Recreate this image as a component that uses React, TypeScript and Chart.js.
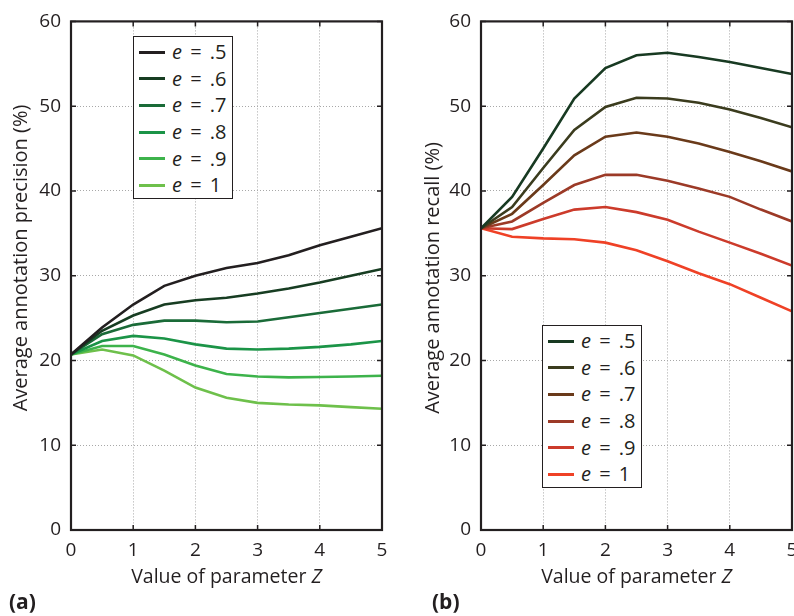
import React, { useEffect, useRef } from "react";
import { Chart, registerables } from "chart.js";

Chart.register(...registerables);

// ---- data ----
const zValues = [0, 0.5, 1, 1.5, 2, 2.5, 3, 3.5, 4, 4.5, 5];
const eLabels = [".5", ".6", ".7", ".8", ".9", "1"];
const xTickValues = [0, 1, 2, 3, 4, 5];
const yTickValues = [0, 10, 20, 30, 40, 50, 60];

const precisionE05 = [20.7, 23.9, 26.6, 28.8, 30.0, 30.9, 31.5, 32.4, 33.6, 34.6, 35.6];
const precisionE06 = [20.7, 23.5, 25.3, 26.6, 27.1, 27.4, 27.9, 28.5, 29.2, 30.0, 30.8];
const precisionE07 = [20.7, 23.1, 24.2, 24.7, 24.7, 24.5, 24.6, 25.1, 25.6, 26.1, 26.6];
const precisionE08 = [20.7, 22.3, 22.9, 22.6, 21.9, 21.4, 21.3, 21.4, 21.6, 21.9, 22.3];
const precisionE09 = [20.7, 21.7, 21.7, 20.7, 19.4, 18.4, 18.1, 18.0, 18.05, 18.1, 18.2];
const precisionE10 = [20.7, 21.3, 20.6, 18.8, 16.8, 15.6, 15.0, 14.8, 14.7, 14.5, 14.3];

const recallE05 = [35.6, 39.3, 45.0, 50.9, 54.5, 56.0, 56.3, 55.8, 55.2, 54.5, 53.8];
const recallE06 = [35.6, 38.1, 42.7, 47.2, 49.9, 51.0, 50.9, 50.4, 49.6, 48.6, 47.5];
const recallE07 = [35.6, 37.3, 40.7, 44.2, 46.4, 46.9, 46.4, 45.6, 44.6, 43.5, 42.3];
const recallE08 = [35.6, 36.4, 38.6, 40.7, 41.9, 41.9, 41.2, 40.3, 39.3, 37.8, 36.4];
const recallE09 = [35.6, 35.5, 36.7, 37.8, 38.1, 37.5, 36.6, 35.2, 33.9, 32.6, 31.2];
const recallE10 = [35.6, 34.6, 34.4, 34.3, 33.9, 33.0, 31.7, 30.3, 29.0, 27.4, 25.8];

const precisionSeries = [precisionE05, precisionE06, precisionE07, precisionE08, precisionE09, precisionE10];
const recallSeries = [recallE05, recallE06, recallE07, recallE08, recallE09, recallE10];

const precisionColors = ["#231f20", "#173d22", "#1a6b38", "#1b9447", "#3db34b", "#6ec04b"];
const recallColors = ["#183a22", "#3b3c1e", "#6a3a1a", "#9c3a27", "#cc3b2b", "#ef4126"];

const TEXT = "#231f20";
const FONT = "'Open Sans', 'Liberation Sans', sans-serif";

const framePlugin = {
  id: "frame",
  afterDraw(chart: any) {
    const { ctx, chartArea, scales } = chart;
    const { left, right, top, bottom } = chartArea;
    ctx.save();
    ctx.strokeStyle = TEXT;
    ctx.lineWidth = 1.5;
    const tl = 5;
    ctx.beginPath();
    scales.x.ticks.forEach((t: any) => {
      const px = scales.x.getPixelForValue(t.value);
      ctx.moveTo(px, bottom);
      ctx.lineTo(px, bottom - tl);
      ctx.moveTo(px, top);
      ctx.lineTo(px, top + tl);
    });
    scales.y.ticks.forEach((t: any) => {
      const py = scales.y.getPixelForValue(t.value);
      ctx.moveTo(left, py);
      ctx.lineTo(left + tl, py);
      ctx.moveTo(right, py);
      ctx.lineTo(right - tl, py);
    });
    ctx.stroke();
    ctx.lineWidth = 2.2;
    ctx.strokeRect(left, top, right - left, bottom - top);
    ctx.restore();
  },
};

type PanelProps = {
  series: number[][];
  colors: string[];
  yAxisWidth: number;
  rightPad: number;
};

function Panel({ series, colors, yAxisWidth, rightPad }: PanelProps) {
  const ref = useRef<HTMLCanvasElement | null>(null);
  useEffect(() => {
    if (!ref.current) return;
    const chart = new Chart(ref.current, {
      type: "line",
      data: {
        datasets: series.map((s, i) => ({
          label: "e = " + eLabels[i],
          data: zValues.map((z, j) => ({ x: z, y: s[j] })),
          borderColor: colors[i],
          backgroundColor: colors[i],
          borderWidth: 2.6,
          pointRadius: 0,
          tension: 0,
          fill: false,
        })),
      },
      options: {
        animation: false,
        responsive: false,
        maintainAspectRatio: false,
        layout: { padding: { top: 16, right: rightPad, left: 0, bottom: 0 } },
        plugins: { legend: { display: false }, tooltip: { enabled: false } },
        scales: {
          x: {
            type: "linear",
            min: 0,
            max: 5,
            afterBuildTicks: (s: any) => {
              s.ticks = xTickValues.map((v) => ({ value: v }));
            },
            afterFit: (s: any) => {
              s.height = 40;
            },
            grid: { color: "#a8a8a8", lineWidth: 1, drawTicks: false },
            border: { display: false, dash: [1, 2] },
            ticks: { color: TEXT, font: { family: FONT, size: 19 }, padding: 9 },
          },
          y: {
            type: "linear",
            min: 0,
            max: 60,
            afterBuildTicks: (s: any) => {
              s.ticks = yTickValues.map((v) => ({ value: v }));
            },
            afterFit: (s: any) => {
              s.width = yAxisWidth;
            },
            grid: { color: "#a8a8a8", lineWidth: 1, drawTicks: false },
            border: { display: false, dash: [1, 2] },
            ticks: { color: TEXT, font: { family: FONT, size: 19 }, padding: 10 },
          },
        },
      },
      plugins: [framePlugin],
    } as any);
    return () => chart.destroy();
  }, []);
  return <canvas ref={ref} width={420} height={570} style={{ display: "block", width: 420, height: 570 }} />;
}

function Legend({ colors, left, top }: { colors: string[]; left: number; top: number }) {
  return (
    <div
      style={{
        position: "absolute",
        left,
        top,
        width: 100,
        height: 163,
        border: `1.5px solid ${TEXT}`,
        background: "#fff",
        fontFamily: FONT,
        fontSize: 20,
        color: TEXT,
        paddingTop: 2,
        boxSizing: "border-box",
      }}
    >
      {eLabels.map((l, i) => (
        <div key={l} style={{ display: "flex", alignItems: "center", height: 26.6 }}>
          <div style={{ marginLeft: 5, width: 26, height: 3, background: colors[i] }} />
          <div style={{ marginLeft: 7, whiteSpace: "nowrap", lineHeight: "26px", wordSpacing: 3 }}>
            <i>e</i> = {l}
          </div>
        </div>
      ))}
    </div>
  );
}

function YTitle({ text, cx, cy }: { text: string; cx: number; cy: number }) {
  const w = 440;
  const h = 26;
  return (
    <div
      style={{
        position: "absolute",
        left: cx - w / 2,
        top: cy - h / 2,
        width: w,
        height: h,
        lineHeight: h + "px",
        textAlign: "center",
        transform: "rotate(-90deg)",
        fontFamily: FONT,
        fontSize: 20,
        color: TEXT,
        whiteSpace: "nowrap",
      }}
    >
      {text}
    </div>
  );
}

export default function App() {
  const xTitleStyle: React.CSSProperties = {
    position: "absolute",
    top: 563,
    textAlign: "center",
    fontFamily: FONT,
    fontSize: 19.5,
    lineHeight: "26px",
    color: TEXT,
    whiteSpace: "nowrap",
  };
  const tagStyle: React.CSSProperties = {
    position: "absolute",
    top: 588,
    fontFamily: FONT,
    fontSize: 21,
    fontWeight: 700,
    lineHeight: "26px",
    color: TEXT,
  };
  return (
    <div
      style={{
        position: "absolute",
        left: 0,
        top: 0,
        width: 794,
        height: 616,
        overflow: "hidden",
        background: "#fff",
      }}
    >
      <div style={{ position: "absolute", left: 0, top: 0 }}>
        <Panel series={precisionSeries} colors={precisionColors} yAxisWidth={71} rightPad={38} />
      </div>
      <div style={{ position: "absolute", left: 420, top: 0 }}>
        <Panel series={recallSeries} colors={recallColors} yAxisWidth={61} rightPad={48} />
      </div>
      <YTitle text="Average annotation precision (%)" cx={20} cy={258} />
      <YTitle text="Average annotation recall (%)" cx={432} cy={278} />
      <Legend colors={precisionColors} left={133} top={36} />
      <Legend colors={recallColors} left={542} top={325} />
      <div style={{ ...xTitleStyle, left: 71, width: 311 }}>
        Value of parameter <i>Z</i>
      </div>
      <div style={{ ...xTitleStyle, left: 481, width: 311 }}>
        Value of parameter <i>Z</i>
      </div>
      <div style={{ ...tagStyle, left: 9 }}>(a)</div>
      <div style={{ ...tagStyle, left: 432 }}>(b)</div>
    </div>
  );
}
